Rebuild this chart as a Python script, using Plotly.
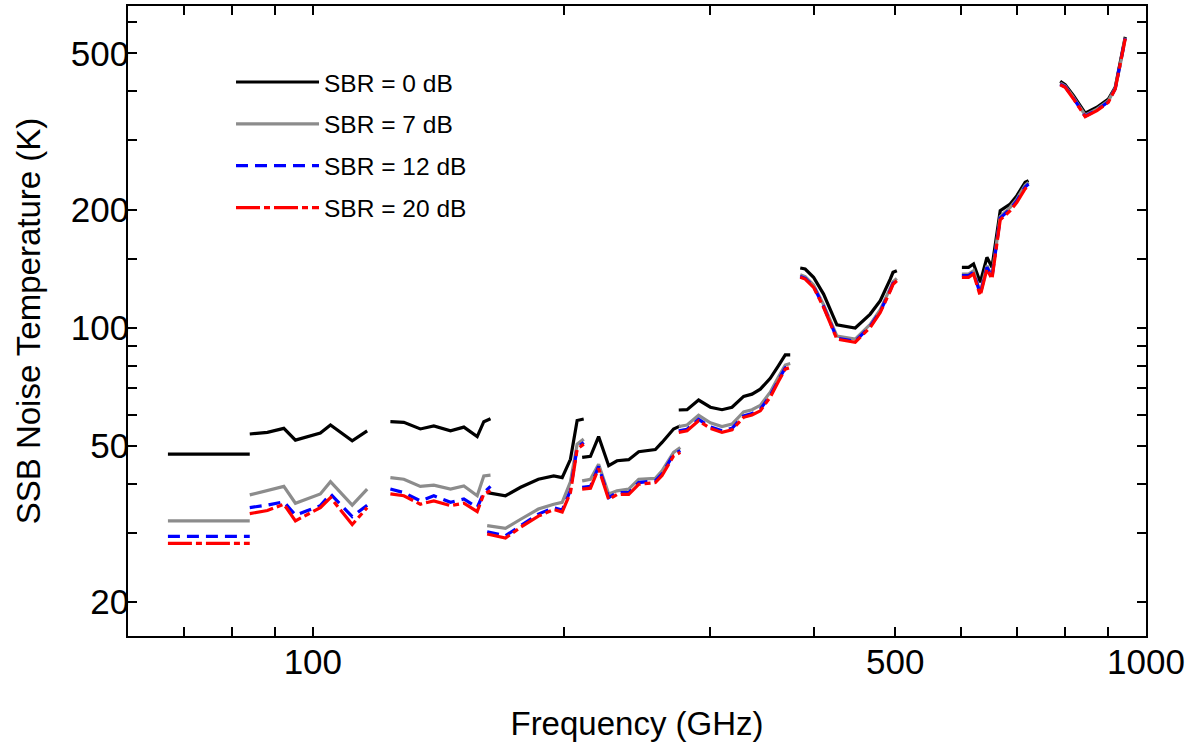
import math
import plotly.graph_objects as go

# ---- data ----
# Frequency points in GHz; None separates the receiver-band segments
freq_ghz = [
    67, 84,
    None,
    84, 88.2, 92.3, 95.3, 102.1, 105, 111.5, 116.2,
    None,
    123.9, 128.6, 134.6, 139.7, 146.3, 151.8, 157.5, 160.4, 163.4,
    None,
    161.9, 170.3, 177.6, 186.5, 194.6, 199.2, 203.8, 207.6, 211.4,
    None,
    210.5, 215.4, 220.3, 226.5, 231.8, 239.4, 246.1, 257.7, 262.5, 271.0, 276.1,
    None,
    274.9, 281.3, 290.4, 300.0, 309.8, 318.5, 328.9, 336.6, 344.4, 354.0, 362.2, 369.0, 374.1,
    None,
    384.6, 389.9, 399.0, 410.2, 425.6, 447.7, 466.7, 479.8, 493.2, 497.0, 502.3,
    None,
    601.2, 612.4, 620.9, 632.5, 644.3, 653.3, 668.4, 687.1, 699.9, 716.1, 722.8,
    None,
    788.9, 799.8, 818.5, 845.3, 873.2, 901.3, 918.5, 931.3, 944.3,
]

# SSB noise temperature (K) for each sideband ratio
t_sbr0 = [
    47.6, 47.6,
    None,
    53.6, 54.1, 55.4, 51.7, 53.9, 56.5, 51.5, 54.6,
    None,
    57.6, 57.4, 55.2, 56.2, 54.6, 55.8, 52.8, 57.6, 58.6,
    None,
    38.0, 37.3, 39.2, 41.1, 41.9, 41.5, 46.2, 58.0, 58.5,
    None,
    46.7, 47.0, 52.8, 44.5, 45.8, 46.1, 48.3, 48.9, 51.0, 55.2, 56.2,
    None,
    61.7, 61.8, 65.4, 62.7, 61.8, 62.7, 66.8, 67.7, 69.7, 74.3, 80.0, 85.2, 85.2,
    None,
    141.9, 141.1, 134.4, 121.8, 101.7, 99.8, 108.3, 117.1, 133.0, 138.4, 139.7,
    None,
    142.5, 142.5, 145.3, 130.5, 151.1, 142.5, 198.6, 206.6, 216.9, 234.7, 236.9,
    None,
    424.6, 416.2, 390.1, 351.9, 364.5, 382.6, 409.9, 469.9, 550.8,
]

t_sbr7 = [
    32.2, 32.2,
    None,
    37.5, 38.4, 39.4, 35.7, 37.7, 40.5, 35.3, 38.8,
    None,
    41.5, 41.1, 39.4, 39.7, 38.8, 39.5, 37.3, 41.9, 42.1,
    None,
    31.3, 30.8, 32.5, 34.5, 35.5, 35.9, 40.5, 50.5, 52.0,
    None,
    40.7, 41.1, 44.9, 37.7, 38.4, 38.8, 41.1, 41.3, 43.2, 48.1, 49.5,
    None,
    56.0, 56.5, 59.8, 57.2, 56.0, 56.8, 61.0, 61.8, 63.4, 68.5, 75.0, 80.3, 81.0,
    None,
    136.5, 135.0, 128.5, 114.5, 95.2, 93.5, 102.0, 111.2, 126.0, 131.0, 133.5,
    None,
    137.0, 137.0, 139.7, 123.0, 143.9, 135.7, 192.0, 202.6, 212.8, 230.5, 234.6,
    None,
    420.0, 413.0, 386.0, 348.0, 360.5, 378.5, 408.0, 467.5, 548.0,
]

t_sbr12 = [
    29.4, 29.4,
    None,
    34.8, 35.3, 36.0, 33.3, 35.2, 37.7, 33.0, 35.3,
    None,
    38.8, 38.0, 36.2, 37.3, 35.9, 36.6, 34.8, 38.0, 39.4,
    None,
    30.2, 29.5, 31.3, 33.5, 34.8, 34.3, 38.5, 49.5, 51.0,
    None,
    39.2, 39.4, 44.3, 36.9, 38.0, 38.0, 40.3, 40.7, 42.4, 47.6, 48.6,
    None,
    54.6, 55.1, 58.4, 55.9, 54.6, 55.4, 59.6, 60.4, 62.0, 67.1, 73.6, 79.0, 79.8,
    None,
    135.0, 133.6, 127.3, 113.3, 94.0, 92.3, 100.8, 110.0, 124.6, 129.6, 132.3,
    None,
    135.7, 135.7, 138.4, 121.8, 142.5, 134.3, 190.2, 200.6, 210.7, 228.3, 232.3,
    None,
    417.0, 411.0, 384.0, 346.0, 358.5, 376.5, 406.5, 466.0, 546.0,
]

t_sbr20 = [
    28.2, 28.2,
    None,
    33.6, 34.2, 35.5, 32.2, 34.8, 36.9, 31.5, 34.8,
    None,
    37.7, 37.3, 35.5, 36.2, 35.2, 35.7, 34.0, 37.7, 38.4,
    None,
    29.8, 29.1, 31.0, 33.1, 34.4, 33.9, 38.0, 49.0, 50.5,
    None,
    38.8, 39.0, 43.8, 36.5, 37.6, 37.6, 39.9, 40.3, 42.0, 47.1, 48.1,
    None,
    54.1, 54.6, 57.9, 55.4, 54.1, 54.9, 59.1, 59.9, 61.4, 66.5, 73.0, 78.4, 79.2,
    None,
    134.4, 133.0, 126.7, 112.7, 93.5, 91.8, 100.2, 109.4, 124.0, 129.0, 131.7,
    None,
    134.4, 134.4, 137.0, 120.6, 141.1, 133.0, 188.3, 198.6, 208.6, 226.0, 230.0,
    None,
    415.9, 409.9, 382.6, 345.0, 357.3, 375.2, 405.8, 465.3, 545.0,
]

series_names = ["SBR = 0 dB", "SBR = 7 dB", "SBR = 12 dB", "SBR = 20 dB"]

x_tickvals = [70, 80, 90, 100, 200, 300, 400, 500, 600, 700, 800, 900, 1000]
x_ticktext = ["", "", "", "100", "", "", "", "500", "", "", "", "", "1000"]
y_tickvals = [20, 30, 40, 50, 60, 70, 80, 90, 100, 150, 200, 300, 400, 500, 600]
y_ticktext = ["20", "", "", "50", "", "", "", "", "100", "", "200", "", "", "500", ""]

# ---- styling ----
styles = [
    dict(color="#000000", width=3.2, dash="solid"),
    dict(color="#8c8c8c", width=3.2, dash="solid"),
    dict(color="#0000ff", width=3.2, dash="12px,7px"),
    dict(color="#ff0000", width=3.2, dash="24px,4px,6px,4px"),
]

FONT = "Liberation Sans, Arial, Helvetica, sans-serif"

fig = go.Figure()
for name, temps, st in zip(series_names, [t_sbr0, t_sbr7, t_sbr12, t_sbr20], styles):
    fig.add_trace(go.Scatter(
        x=freq_ghz, y=temps, mode="lines", name=name,
        line=st, connectgaps=False, legendgroup=name,
    ))

axis_common = dict(
    type="log", showgrid=False, zeroline=False, automargin=False,
    showline=True, linecolor="black", linewidth=1.5, mirror="ticks",
    ticks="inside", ticklen=9, tickwidth=1.5, tickcolor="black",
    tickfont=dict(size=35, family=FONT, color="black"),
)

fig.update_layout(
    width=1191, height=745,
    margin=dict(l=128, r=45, t=6, b=109),
    plot_bgcolor="white", paper_bgcolor="white",
    font=dict(family=FONT, color="black"),
    showlegend=True,
    legend=dict(
        x=0.1012, y=0.915, xanchor="left", yanchor="top",
        font=dict(size=24.5, family=FONT, color="black"),
        bgcolor="rgba(0,0,0,0)", itemwidth=83, tracegroupgap=7,
    ),
    xaxis=dict(
        **axis_common,
        range=[math.log10(60), 3],
        tickvals=x_tickvals, ticktext=x_ticktext,
        ticklabelstandoff=-6,
        title=dict(text="Frequency (GHz)", font=dict(size=33, family=FONT, color="black"), standoff=32),
    ),
    yaxis=dict(
        **axis_common,
        range=[1.2144, 2.8196],
        tickvals=y_tickvals, ticktext=y_ticktext,
        ticklabelstandoff=-10,
        title=dict(text="SSB Noise Temperature (K)", font=dict(size=33, family=FONT, color="black"), standoff=20),
    ),
)

fig.write_html(
    "out.html",
    config={"displayModeBar": False},
    post_script="document.body.style.margin='0px';",
)
